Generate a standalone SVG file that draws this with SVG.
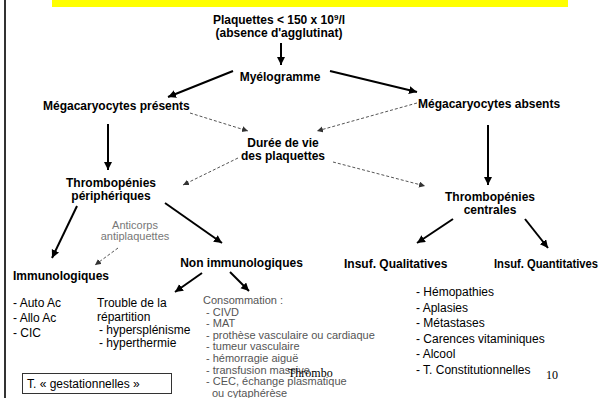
<svg xmlns="http://www.w3.org/2000/svg" width="604" height="398" viewBox="0 0 604 398">
<style>
.b{font-family:"Liberation Sans",Arial,sans-serif;font-weight:bold;font-size:12px;fill:#000}
.r{font-family:"Liberation Sans",Arial,sans-serif;font-size:12px;fill:#000}
.g{font-family:"Liberation Sans",Arial,sans-serif;font-size:11px;fill:#555}
.ga{font-family:"Liberation Sans",Arial,sans-serif;font-size:11px;fill:#777}
.s{font-family:"Liberation Serif","Times New Roman",serif;font-size:12px;fill:#000}
.m{text-anchor:middle}
.sol{stroke:#000;stroke-width:2;fill:none;marker-end:url(#ah)}
.dsh{stroke:#555;stroke-width:1;stroke-dasharray:3,2;fill:none;marker-end:url(#ahd)}
</style>
<defs>
<marker id="ah" markerUnits="userSpaceOnUse" markerWidth="10" markerHeight="10" refX="8" refY="4" orient="auto"><path d="M0,0 L8,4 L0,8 Z" fill="#000"/></marker>
<marker id="ahd" markerUnits="userSpaceOnUse" markerWidth="8" markerHeight="8" refX="6" refY="3" orient="auto"><path d="M0,0 L6,3 L0,6 Z" fill="#333"/></marker>
</defs>
<rect width="604" height="398" fill="#fff"/>
<rect x="52" y="0" width="516" height="7" fill="#ffff00"/>
<line x1="5" y1="0" x2="5" y2="398" stroke="#333" stroke-width="2"/>

<g id="connectors">
<line class="sol" x1="281" y1="43" x2="281" y2="65"/>
<line class="sol" x1="233" y1="71" x2="168" y2="97"/>
<line class="sol" x1="330" y1="71" x2="417" y2="92"/>
<line class="sol" x1="108" y1="124" x2="108" y2="170"/>
<line class="sol" x1="488" y1="125" x2="488" y2="185"/>
<line class="sol" x1="77" y1="206" x2="52" y2="258"/>
<line class="sol" x1="165" y1="203" x2="222" y2="243"/>
<line class="sol" x1="453" y1="219" x2="417" y2="243"/>
<line class="sol" x1="525" y1="219" x2="548" y2="248"/>
<line class="sol" x1="202" y1="273" x2="175" y2="292"/>
<line class="sol" x1="230" y1="272" x2="249" y2="291"/>
<line class="dsh" x1="190" y1="113" x2="248" y2="131"/>
<line class="dsh" x1="417" y1="103" x2="317" y2="131"/>
<line class="dsh" x1="238" y1="158" x2="183" y2="185"/>
<line class="dsh" x1="333" y1="162" x2="425" y2="186"/>
<line class="dsh" x1="118" y1="248" x2="95" y2="265"/>
</g>

<g id="plaquettes"><text class="b m" x="279" y="24">Plaquettes &lt; 150 x 10<tspan font-size="8" dy="-4">9</tspan><tspan dy="4">/l</tspan></text><text class="b m" x="279" y="37">(absence d'agglutinat)</text></g>
<g id="myelogramme"><text class="b m" x="280" y="81">Myélogramme</text></g>
<g id="mega-presents"><text class="b" x="43" y="110">Mégacaryocytes présents</text></g>
<g id="mega-absents"><text class="b" x="418" y="108">Mégacaryocytes absents</text></g>
<g id="duree"><text class="b m" x="283" y="147">Durée de vie</text><text class="b m" x="283" y="160">des plaquettes</text></g>
<g id="thrombo-periph"><text class="b m" x="111" y="187">Thrombopénies</text><text class="b m" x="111" y="200">périphériques</text></g>
<g id="thrombo-centrales"><text class="b m" x="490" y="201">Thrombopénies</text><text class="b m" x="490" y="214">centrales</text></g>
<g id="anticorps"><text class="ga m" x="135" y="229">Anticorps</text><text class="ga m" x="135" y="240">antiplaquettes</text></g>
<g id="immuno"><text class="b" x="13" y="280">Immunologiques</text>
<text class="r" x="13" y="307">- Auto Ac</text><text class="r" x="13" y="322">- Allo Ac</text><text class="r" x="13" y="337">- CIC</text></g>
<g id="non-immuno"><text class="b m" x="241.5" y="267">Non immunologiques</text></g>
<g id="repartition"><text class="r" x="97" y="307">Trouble de la</text><text class="r" x="97" y="320.5">répartition</text><text class="r" x="99" y="334"> - hypersplénisme</text><text class="r" x="99" y="347"> - hyperthermie</text></g>
<g id="consommation">
<text class="g" x="203" y="304">Consommation :</text>
<text class="g" x="206" y="315.6">- CIVD</text>
<text class="g" x="206" y="327.2">- MAT</text>
<text class="g" x="206" y="338.8">- prothèse vasculaire ou cardiaque</text>
<text class="g" x="206" y="350.4">- tumeur vasculaire</text>
<text class="g" x="206" y="362">- hémorragie aiguë</text>
<text class="g" x="206" y="373.6">- transfusion massive</text>
<text class="g" x="206" y="385.2">- CEC, échange plasmatique</text>
<text class="g" x="212" y="396.8">ou cytaphérèse</text>
</g>
<g id="insuf-qual"><text class="b" x="344" y="268">Insuf. Qualitatives</text></g>
<g id="insuf-quant"><text class="b" x="494" y="268" textLength="104" lengthAdjust="spacingAndGlyphs">Insuf. Quantitatives</text></g>
<g id="causes-centrales">
<text class="r" x="416" y="296">- Hémopathies</text>
<text class="r" x="416" y="311.5">- Aplasies</text>
<text class="r" x="416" y="327">- Métastases</text>
<text class="r" x="416" y="342.5">- Carences vitaminiques</text>
<text class="r" x="416" y="358">- Alcool</text>
<text class="r" x="416" y="373.5">- T. Constitutionnelles</text>
</g>
<g id="gestationnelles"><rect x="22.5" y="373.5" width="149" height="20" fill="#fff" stroke="#333" stroke-width="1"/><text class="r" x="27" y="388" font-size="11.5">T. « gestationnelles »</text></g>
<text class="s" x="288" y="377">Thrombo</text>
<text class="s" x="546" y="379" font-size="13">10</text>
</svg>
